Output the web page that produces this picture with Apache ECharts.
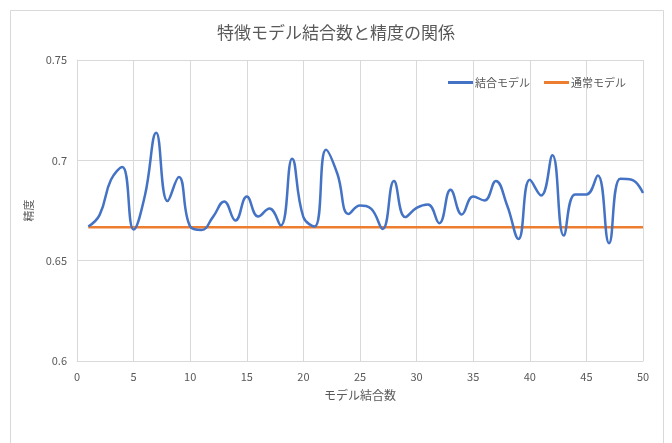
<!DOCTYPE html>
<html>
<head>
<meta charset="utf-8">
<script src="https://cdn.jsdelivr.net/npm/echarts@6.0.0/dist/echarts.min.js"></script>
<style>
  html, body { margin: 0; padding: 0; background: #fff; }
  #chart { width: 672px; height: 443px; }
</style>
</head>
<body>
<div id="chart"></div>
<script>
// モデル結合数 (x)
const combineCounts = [1, 2, 3, 4, 5, 6, 7, 8, 9, 10, 11, 12, 13, 14, 15, 16, 17, 18, 19, 20,
  21, 22, 23, 24, 25, 26, 27, 28, 29, 30, 31, 32, 33, 34, 35, 36, 37, 38, 39, 40,
  41, 42, 43, 44, 45, 46, 47, 48, 49, 50];

// 結合モデルの精度
const combinedAcc = [0.6670, 0.6728, 0.6903, 0.6967, 0.6655, 0.6825, 0.7137, 0.6797, 0.6917, 0.6670,
  0.6653, 0.6717, 0.6795, 0.6700, 0.6820, 0.6720, 0.6760, 0.6675, 0.7008, 0.6717,
  0.6670, 0.7053, 0.6933, 0.6733, 0.6775, 0.6758, 0.6658, 0.6897, 0.6717, 0.6763,
  0.6780, 0.6687, 0.6853, 0.6730, 0.6820, 0.6800, 0.6897, 0.6775, 0.6608, 0.6903,
  0.6825, 0.7025, 0.6625, 0.6830, 0.6830, 0.6925, 0.6587, 0.6908, 0.6903, 0.6837];

// 通常モデルの精度
const normalAcc = [0.6667, 0.6667, 0.6667, 0.6667, 0.6667, 0.6667, 0.6667, 0.6667, 0.6667, 0.6667,
  0.6667, 0.6667, 0.6667, 0.6667, 0.6667, 0.6667, 0.6667, 0.6667, 0.6667, 0.6667,
  0.6667, 0.6667, 0.6667, 0.6667, 0.6667, 0.6667, 0.6667, 0.6667, 0.6667, 0.6667,
  0.6667, 0.6667, 0.6667, 0.6667, 0.6667, 0.6667, 0.6667, 0.6667, 0.6667, 0.6667,
  0.6667, 0.6667, 0.6667, 0.6667, 0.6667, 0.6667, 0.6667, 0.6667, 0.6667, 0.6667];

const seriesNames = ['結合モデル', '通常モデル'];

const FONT = '"Noto Sans CJK JP", "Noto Sans", sans-serif';
const TEXT_COLOR = '#595959';
const GRID_COLOR = '#d9d9d9';

const pairs = (xs, ys) => xs.map((x, i) => [x, ys[i]]);

const chart = echarts.init(document.getElementById('chart'), null, { renderer: 'canvas' });

chart.setOption({
  backgroundColor: '#fff',
  animation: false,
  textStyle: { fontFamily: FONT },
  title: {
    text: '特徴モデル結合数と精度の関係',
    left: 'center',
    top: 19,
    textStyle: { fontFamily: FONT, fontSize: 17, fontWeight: 'normal', color: TEXT_COLOR }
  },
  // チャート枠
  graphic: [{
    type: 'rect',
    silent: true,
    shape: { x: 10.5, y: 10.5, width: 653, height: 440 },
    style: { fill: 'none', stroke: GRID_COLOR, lineWidth: 1 }
  }],
  legend: {
    data: seriesNames,
    right: 41,
    top: 72,
    icon: 'rect',
    itemWidth: 25,
    itemHeight: 3,
    itemGap: 14,
    textStyle: { fontFamily: FONT, fontSize: 11, color: TEXT_COLOR, padding: [0, 0, 0, -3] }
  },
  grid: { left: 77, right: 29, top: 60, bottom: 82 },
  xAxis: {
    type: 'value',
    min: 0, max: 50, interval: 5,
    name: 'モデル結合数',
    nameLocation: 'middle',
    nameGap: 28,
    nameTextStyle: { fontFamily: FONT, fontSize: 12, color: TEXT_COLOR },
    axisLine: { lineStyle: { color: GRID_COLOR } },
    axisTick: { show: false },
    axisLabel: { fontFamily: FONT, fontSize: 11, color: TEXT_COLOR, margin: 10 },
    splitLine: { show: true, lineStyle: { color: GRID_COLOR } }
  },
  yAxis: {
    type: 'value',
    min: 0.6, max: 0.75, interval: 0.05,
    name: '精度',
    nameLocation: 'middle',
    nameGap: 38,
    nameTextStyle: { fontFamily: FONT, fontSize: 11, color: TEXT_COLOR },
    axisLine: { show: true, lineStyle: { color: GRID_COLOR } },
    axisTick: { show: false },
    axisLabel: { fontFamily: FONT, fontSize: 11, color: TEXT_COLOR, margin: 10 },
    splitLine: { lineStyle: { color: GRID_COLOR } }
  },
  series: [
    {
      name: seriesNames[0],
      type: 'line',
      data: pairs(combineCounts, combinedAcc),
      smooth: 0.45,
      showSymbol: false,
      lineStyle: { width: 2.5, color: '#4472C4' },
      itemStyle: { color: '#4472C4' },
      z: 3
    },
    {
      name: seriesNames[1],
      type: 'line',
      data: pairs(combineCounts, normalAcc),
      showSymbol: false,
      lineStyle: { width: 2.5, color: '#ED7D31' },
      itemStyle: { color: '#ED7D31' },
      z: 2
    }
  ]
});
</script>
</body>
</html>
